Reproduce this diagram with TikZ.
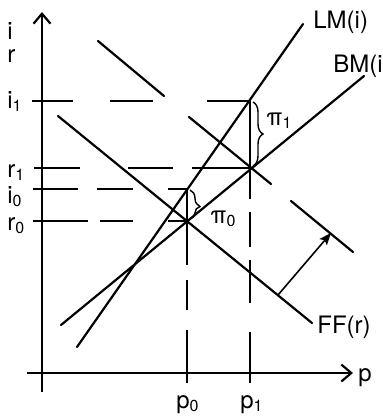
\documentclass[tikz,border=0pt]{standalone}
\usepackage{fontspec}
\setmainfont{TeX Gyre Heros}
\usepackage{tikz}
\usetikzlibrary{arrows.meta,decorations.pathreplacing}

\begin{document}
\begin{tikzpicture}[
    x=0.5pt, y=-0.5pt,
    ax/.style={line width=1.1pt, -{Straight Barb[length=5pt,width=8.5pt]}},
    crv/.style={line width=1.1pt, line cap=round},
    guide/.style={line width=0.7pt},
    shiftarr/.style={line width=0.8pt, -{Stealth[length=6pt,width=4.8pt,inset=1.2pt]}},
    brc/.style={decorate, decoration={brace, amplitude=5pt}, line width=0.7pt},
    lbl/.style={font=\fontsize{12}{14}\selectfont, inner sep=0pt, anchor=base west},
]
\useasboundingbox (0,0) rectangle (382,419);
\coordinate (O) at (42,373);
\coordinate (Ytop) at (42,12);
\coordinate (Ybot) at (42,392);
\coordinate (Xl) at (27,373);
\coordinate (Xr) at (353,373);
\draw[ax] (Ybot) -- (Ytop);
\draw[ax] (Xl) -- (Xr);
\foreach \a/\b in {32/73, 110/153, 207/250}
  \draw[guide] (\a,101) -- (\b,101);
\foreach \a/\b in {34/80, 128/173, 192/250}
  \draw[guide] (\a,168) -- (\b,168);
\foreach \a/\b in {33/78, 97/133, 168/187}
  \draw[guide] (\a,189) -- (\b,189);
\foreach \a/\b in {33/88, 100/133, 168/187}
  \draw[guide] (\a,221) -- (\b,221);
\foreach \a/\b in {189/265, 280/310, 330/383}
  \draw[guide] (187,\a) -- (187,\b);
\foreach \a/\b in {101/199, 212/247, 260/303, 332/383}
  \draw[guide] (250,\a) -- (250,\b);
\coordinate (LMa) at (77,347);
\coordinate (LMb) at (303,24);
\coordinate (BMa) at (61,325);
\coordinate (BMb) at (364,76);
\coordinate (FFa) at (58,116);
\coordinate (FFb) at (312,323);
\draw[crv] (LMa) -- (LMb);
\draw[crv] (BMa) -- (BMb);
\draw[crv] (FFa) -- (FFb);
\coordinate (FFsa) at (98,41);
\coordinate (FFsb) at (164,96);
\coordinate (FFsc) at (189,117);
\coordinate (FFsd) at (271,184);
\coordinate (FFse) at (291,201);
\coordinate (FFsf) at (353,252);
\draw[crv] (FFsa) -- (FFsb);
\draw[crv] (FFsc) -- (FFsd);
\draw[crv] (FFse) -- (FFsf);
\coordinate (shA) at (278,295);
\coordinate (shB) at (331,233);
\draw[shiftarr] (shA) -- (shB);
\coordinate (bra) at (253,102);
\coordinate (brb) at (253,166);
\draw[brc] (bra) -- (brb);
\coordinate (brc) at (190,190);
\coordinate (brd) at (190,219);
\draw[brc, decoration={aspect=0.57}] (brc) -- (brd);
\node[lbl] (pione) at (266,125) {π\textsubscript{1}};
\node[lbl] (pizero) at (210,223) {π\textsubscript{0}};
\node[lbl] (ilbl) at (7,39) {i};
\node[lbl] (rlbl) at (7,62) {r};
\node[lbl] (ione) at (7,108) {i\textsubscript{1}};
\node[lbl] (rone) at (7,177) {r\textsubscript{1}};
\node[lbl] (izero) at (7,203) {i\textsubscript{0}};
\node[lbl] (rzero) at (7,230) {r\textsubscript{0}};
\node[lbl] (pzero) at (176,408) {p\textsubscript{0}};
\node[lbl] (pone) at (240,408) {p\textsubscript{1}};
\node[lbl] (plbl) at (358,381) {p};
\node[lbl] (LMlbl) at (313,28) {LM(i)};
\node[lbl] (BMlbl) at (333,72) {BM(i};
\node[lbl] (FFlbl) at (317,333) {FF(r)};
\end{tikzpicture}
\end{document}
